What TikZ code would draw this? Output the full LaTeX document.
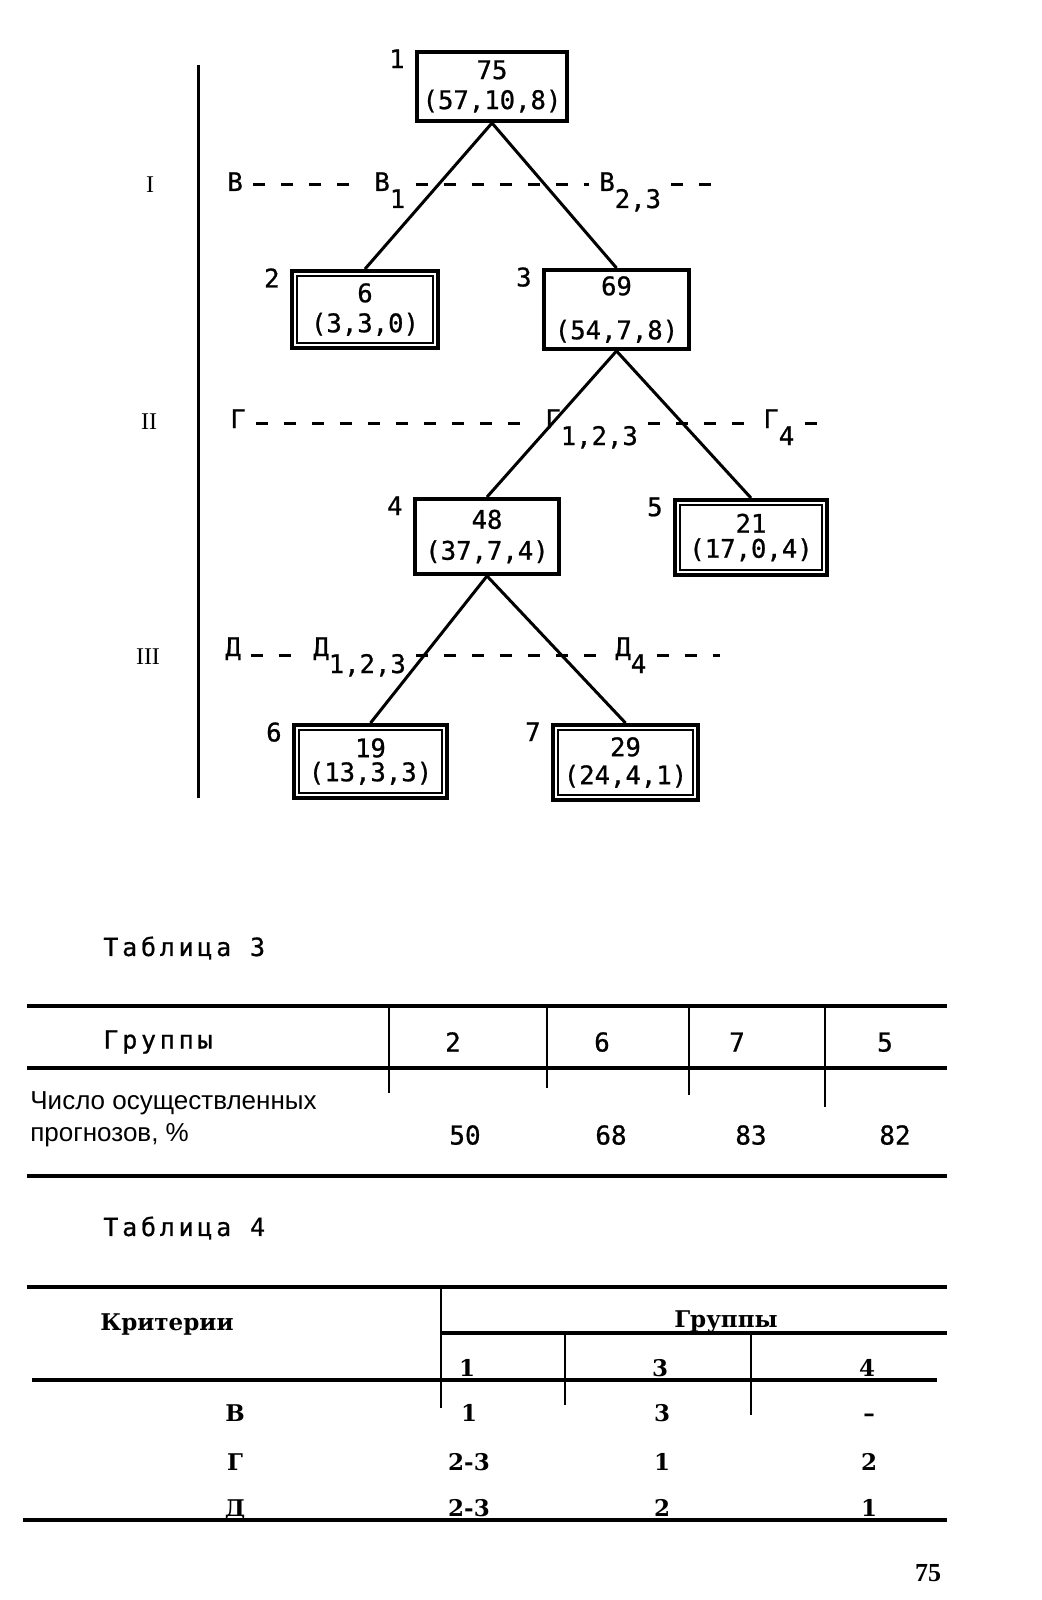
\documentclass[tikz,border=0pt]{standalone}
\usepackage{fontspec}
\setmainfont{DejaVu Sans Mono}[FakeBold=0.8]
\newfontfamily\romfont{Liberation Serif}
\newfontfamily\capfont{DejaVu Sans Mono}[LetterSpace=15, FakeBold=0.8]
\newfontfamily\txtfont{Liberation Sans}
\newfontfamily\critfont{DejaVu Serif}
\newfontfamily\pagefont{Liberation Serif}

\tikzset{
  grp/.style={draw, rectangle, line width=1.8pt, align=center, inner sep=0pt, font=\fontsize{12.8}{14.5}\selectfont},
  leaf/.style={grp, line width=2pt, path picture={\draw[line width=0.8pt] ([shift={(2.4pt,2.4pt)}]path picture bounding box.south west) rectangle ([shift={(-2.4pt,-2.4pt)}]path picture bounding box.north east);}},
  num/.style={label={[anchor=north east, inner sep=1pt, xshift=-4pt, yshift=1.5pt, font=\fontsize{12.8}{14}\selectfont]north west:#1}},
  link/.style={line width=1.5pt},
  lvl/.style={anchor=base west, inner xsep=5pt, inner ysep=0pt, font=\fontsize{12.8}{14}\selectfont},
  cutln/.style={line width=1.5pt, dash pattern=on 6pt off 8pt},
  rom/.style={font=\romfont\fontsize{12}{14}\selectfont},
  hline/.style={line width=2.2pt},
  vline/.style={line width=1.1pt},
  capt/.style={inner sep=0pt, font=\capfont\fontsize{12.5}{15}\selectfont},
  cell/.style={inner sep=0pt, text height=9.5pt, text depth=0pt, font=\fontsize{13}{15}\selectfont},
  crit/.style={inner sep=0pt, text height=8.4pt, text depth=0pt, font=\critfont\bfseries\fontsize{11.5}{14}\selectfont}
}

\begin{document}
\begin{tikzpicture}[x=0.5pt, y=-0.5pt]
\useasboundingbox (0,0) rectangle (1041,1600);

\draw[line width=1.5pt] (198,65) -- (198,798);
\node[rom] (rI) at (150,185) {I};
\node[rom] (rII) at (149,422) {II};
\node[rom] (rIII) at (148,657) {III};

\node[grp, num=1, minimum width=75.2pt, minimum height=34.7pt] (g1) at (492,86.5) {75\\[0.5pt](57,10,8)};
\node[leaf, num=2, minimum width=73pt, minimum height=38.5pt] (g2) at (365,309.5) {6\\[0.5pt](3,3,0)};
\node[grp, num=3, minimum width=72.7pt, minimum height=39.7pt] (g3) at (616.5,309.5) {69\\[7.5pt](54,7,8)};
\node[grp, num=4, minimum width=72.2pt, minimum height=37.7pt] (g4) at (487,536.5) {48\\[1pt](37,7,4)};
\node[leaf, num=5, minimum width=76pt, minimum height=37.5pt] (g5) at (751,537.5) {21\\[-2pt](17,0,4)};
\node[leaf, num=6, minimum width=76.5pt, minimum height=36.5pt] (g6) at (370.5,761.5) {19\\[-2.5pt](13,3,3)};
\node[leaf, num=7, minimum width=72.5pt, minimum height=37.5pt] (g7) at (625.5,762.5) {29\\[-0.5pt](24,4,1)};

\draw[link] (g1.south) -- (g2.north);
\draw[link] (g1.south) -- (g3.north);
\draw[link] (g3.south) -- (g4.north);
\draw[link] (g3.south) -- (g5.north);
\draw[link] (g4.south) -- (g6.north);
\draw[link] (g4.south) -- (g7.north);

\node[lvl] (lB) at (217,191) {В};
\node[lvl] (lB1) at (364,191) {В\raisebox{-8.5pt}{1}};
\node[lvl] (lB23) at (589,191) {В\raisebox{-8.5pt}{2,3}};
\coordinate (eB) at (721,184);
\draw[cutln] (lB.east |- eB) -- (lB1.west |- eB);
\draw[cutln] (lB1.east |- eB) -- (lB23.west |- eB);
\draw[cutln] (lB23.east |- eB) -- (eB);

\node[lvl] (lG) at (220,428) {Г};
\node[lvl] (lG123) at (535,428) {Г\raisebox{-8.5pt}{1,2,3}};
\node[lvl] (lG4) at (753,428) {Г\raisebox{-8.5pt}{4}};
\coordinate (eG) at (821,423);
\draw[cutln] (lG.east |- eG) -- (lG123.west |- eG);
\draw[cutln] (lG123.east |- eG) -- (lG4.west |- eG);
\draw[cutln] (lG4.east |- eG) -- (eG);

\node[lvl] (lD) at (215,656) {Д};
\node[lvl] (lD123) at (303,656) {Д\raisebox{-8.5pt}{1,2,3}};
\node[lvl] (lD4) at (605,656) {Д\raisebox{-8.5pt}{4}};
\coordinate (eD) at (720,655);
\draw[cutln] (lD.east |- eD) -- (lD123.west |- eD);
\draw[cutln] (lD123.east |- eD) -- (lD4.west |- eD);
\draw[cutln] (lD4.east |- eD) -- (eD);

\node[capt, anchor=west] (tab3) at (103,948) {Таблица 3};
\draw[hline] (27,1006) -- (947,1006);
\draw[hline] (27,1068) -- (947,1068);
\draw[hline] (27,1176) -- (947,1176);
\foreach \x/\b in {389/1093, 547/1088, 689/1095, 825/1107}
  \draw[vline] (\x,1006) -- (\x,\b);
\node[capt] (hGr) at (158,1042) {Группы};
\foreach \x/\v [count=\i] in {453/2, 602/6, 737/7, 885/5}
  \node[cell] (hc\i) at (\x,1042) {\v};
\node[anchor=west, align=left, inner sep=0pt, font=\txtfont\fontsize{13}{16}\selectfont] (hRow) at (30,1119) {Число осуществленных\\прогнозов, \%};
\foreach \x/\v [count=\i] in {465/50, 611/68, 751/83, 895/82}
  \node[cell] (vc\i) at (\x,1135) {\v};

\node[capt, anchor=west] (tab4) at (103,1228) {Таблица 4};
\draw[hline] (27,1287) -- (947,1287);
\draw[vline] (441,1287) -- (441,1408);
\node[crit, anchor=west] (kr) at (100,1322) {Критерии};
\draw[hline] (441,1333) -- (947,1333);
\node[crit] (gr4) at (726,1319) {Группы};
\draw[vline] (565,1333) -- (565,1405);
\draw[vline] (751,1333) -- (751,1415);
\foreach \x/\v [count=\i] in {467/1, 660/3, 867/4}
  \node[crit] (sg\i) at (\x,1368) {\v};
\draw[hline] (32,1380) -- (937,1380);
\foreach \y/\a/\b/\c/\d [count=\r] in {1413/В/1/3/–, 1462/Г/2-3/1/2, 1508/Д/2-3/2/1} {
  \node[crit] (ra\r) at (235,\y) {\a};
  \node[crit] (rb\r) at (469,\y) {\b};
  \node[crit] (rc\r) at (662,\y) {\c};
  \node[crit] (rd\r) at (869,\y) {\d};
}
\draw[hline] (23,1520) -- (947,1520);
\node[font=\pagefont\bfseries\fontsize{13}{15}\selectfont, inner sep=0pt] (pg) at (928,1573) {75};
\end{tikzpicture}
\end{document}
